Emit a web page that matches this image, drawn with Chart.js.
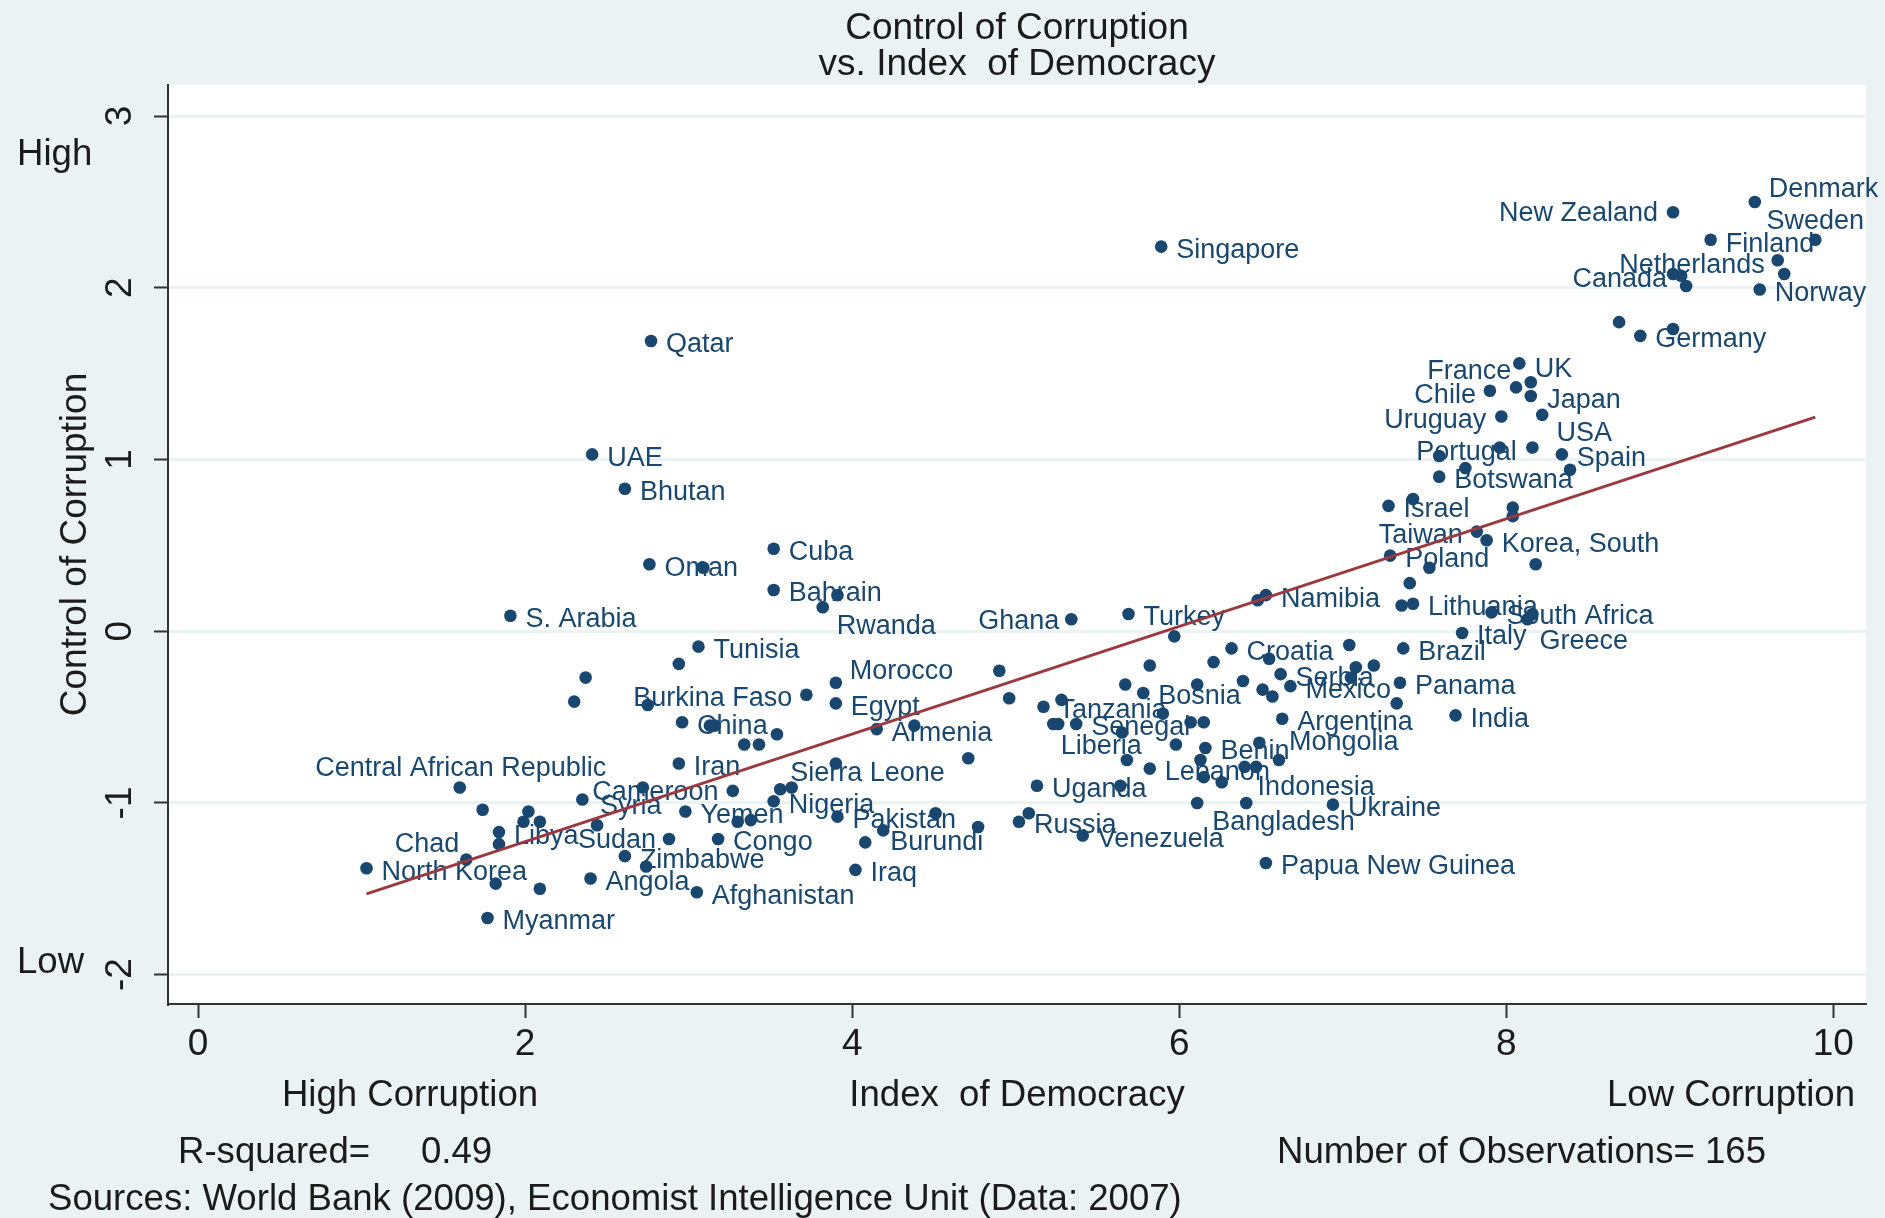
<!DOCTYPE html>
<html>
<head>
<meta charset="utf-8">
<title>Control of Corruption vs. Index of Democracy</title>
<script src="https://cdn.jsdelivr.net/npm/chart.js@4.4.1/dist/chart.umd.min.js"></script>
<style>
    html, body { margin: 0; padding: 0; background: #eaf2f3; }
    #wrap { width: 1885px; height: 1218px; }
</style>
</head>
<body>
<div id="wrap"><canvas id="corruptionChart" width="1885" height="1218"></canvas></div>
<script>
// Labelled countries (x = Index of Democracy, y = Control of Corruption)
const countries = ['Denmark', 'Sweden', 'Finland', 'New Zealand', 'Netherlands', 'Canada', 'Norway', 'Germany',
    'Singapore', 'Qatar', 'UAE', 'Bhutan', 'Oman', 'Cuba', 'Bahrain', 'Rwanda', 'S. Arabia', 'Tunisia',
    'Morocco', 'Burkina Faso', 'Egypt', 'China', 'Armenia', 'Iran', 'Sierra Leone', 'Central African Republic',
    'Cameroon', 'Syria', 'Libya', 'Chad', 'North Korea', 'Myanmar', 'Angola', 'Sudan', 'Zimbabwe', 'Yemen',
    'Congo', 'Afghanistan', 'Nigeria', 'Pakistan', 'Burundi', 'Iraq', 'Ghana', 'Turkey', 'Namibia', 'Croatia',
    'Bosnia', 'Tanzania', 'Senegal', 'Liberia', 'Lebanon', 'Benin', 'Uganda', 'Russia', 'Venezuela',
    'Bangladesh', 'Indonesia', 'Mongolia', 'Argentina', 'Mexico', 'Serbia', 'Panama', 'India', 'Ukraine',
    'Papua New Guinea', 'Brazil', 'Italy', 'Greece', 'South Africa', 'Lithuania', 'Poland', 'Korea, South',
    'Taiwan', 'Israel', 'Botswana', 'Spain', 'Portugal', 'USA', 'Uruguay', 'Japan', 'Chile', 'France', 'UK'];
const democracy = [9.52, 9.89, 9.25, 9.02, 9.07, 9.02, 9.55, 8.82,
    5.89, 2.77, 2.41, 2.61, 2.76, 3.52, 3.52, 3.82, 1.91, 3.06,
    3.90, 3.72, 3.90, 2.96, 4.15, 2.94, 3.56, 1.60,
    2.35, 2.44, 1.84, 1.64, 1.03, 1.77, 2.40, 2.88, 2.61, 2.98,
    3.18, 3.05, 3.52, 3.91, 4.19, 4.02, 5.34, 5.69, 6.53, 6.32,
    5.78, 5.17, 5.37, 5.68, 5.82, 6.16, 5.13, 5.02, 5.41,
    6.11, 6.40, 6.61, 6.63, 6.68, 6.62, 7.35, 7.69, 6.94,
    6.53, 7.37, 7.73, 8.13, 7.91, 7.43, 7.29, 7.88,
    7.82, 7.28, 7.59, 8.34, 7.59, 8.16, 7.97, 8.22, 7.90, 8.08, 8.15];
const corruption = [2.50, 2.28, 2.28, 2.44, 2.07, 2.08, 1.99, 1.72,
    2.24, 1.69, 1.03, 0.83, 0.39, 0.48, 0.24, 0.14, 0.09, -0.09,
    -0.30, -0.37, -0.42, -0.53, -0.57, -0.77, -0.92, -0.91,
    -0.98, -1.13, -1.17, -1.33, -1.38, -1.67, -1.44, -1.21, -1.31, -1.05,
    -1.21, -1.52, -0.99, -1.08, -1.16, -1.39, 0.07, 0.10, 0.21, -0.10,
    -0.36, -0.44, -0.54, -0.75, -0.80, -0.68, -0.90, -1.11, -1.19,
    -1.00, -0.79, -0.75, -0.51, -0.32, -0.25, -0.30, -0.49, -1.01,
    -1.35, -0.10, -0.01, 0.07, 0.11, 0.16, 0.44, 0.53,
    0.58, 0.73, 0.90, 1.03, 1.02, 1.07, 1.25, 1.26, 1.40, 1.56, 1.45];

// Countries plotted without a label
const otherDemocracy = [2.37, 2.30, 1.74, 2.02, 1.99, 2.09, 1.84, 1.82, 2.09, 2.74, 2.72,
    2.94, 2.75, 3.13, 3.16, 3.54, 3.34, 3.43, 4.38, 3.90, 3.27, 3.63, 3.30, 3.38, 4.51, 4.08,
    3.09, 3.91, 5.97, 4.90, 5.82, 6.21, 6.55, 4.96, 5.28, 5.67, 6.11, 6.39, 6.51, 6.57, 6.48,
    5.23, 5.26, 5.65, 5.90, 6.07, 6.15, 5.98, 4.71, 6.13, 6.15, 6.26, 6.47, 6.49, 5.64, 6.41,
    5.08, 4.77, 7.41, 7.36, 8.16, 7.04, 7.08, 7.19, 7.05, 7.33, 7.75, 8.39, 7.43, 8.04, 8.04,
    7.53, 8.18, 7.96, 8.06, 8.15, 9.10, 9.66, 9.70, 8.69, 9.02];
const otherCorruption = [-0.27, -0.41, -1.04, -1.05, -1.11, -1.11, -1.24, -1.47, -1.50, -1.37, -0.91,
    -0.19, -0.43, -0.55, -0.55, -0.60, -0.66, -0.66, -0.55, -0.77, -0.93, -0.91, -1.11, -1.10, -1.06, -1.23,
    0.37, 0.21, -0.03, -0.23, -0.20, -0.18, -0.16, -0.39, -0.40, -0.31, -0.31, -0.29, -0.34, -0.38, 0.18,
    -0.54, -0.54, -0.59, -0.48, -0.53, -0.53, -0.66, -0.74, -0.75, -0.85, -0.88, -0.79, -0.65, -0.90, -1.00,
    -1.06, -1.14, 0.28, 0.15, 0.10, -0.08, -0.21, -0.20, -0.27, -0.42, 0.95, 0.94, 0.77, 0.72, 0.67,
    0.37, 0.39, 1.07, 1.42, 1.37, 2.01, 2.16, 2.08, 1.80, 1.76];

// Fitted line and notes
const fitIntercept = -1.852;
const fitSlope = 0.3133;
const rSquared = '0.49';
const nObs = 165;
const xTickValues = [0, 2, 4, 6, 8, 10];
const yTickValues = [-2, -1, 0, 1, 2, 3];
const sourceNote = 'Sources: World Bank (2009), Economist Intelligence Unit (Data: 2007)';

// Marker label placement: [dx, dy, align] relative to the marker
const labelPlace = {
    'Denmark': [14, -12], 'Sweden': [0, -18, 'center'], 'Finland': [15, 5], 'New Zealand': [-15, 1, 'right'],
    'Netherlands': [-62, -10], 'Canada': [-6, 5, 'right'], 'Rwanda': [14, 19], 'Morocco': [14, -11],
    'Burkina Faso': [-14, 4, 'right'], 'Sierra Leone': [10, -16], 'Central African Republic': [1, -19, 'center'],
    'Cameroon': [10, -7], 'Syria': [3, -19], 'Chad': [-7, -15, 'right'], 'Sudan': [-13, 2, 'right'],
    'Burundi': [7, 12], 'Ghana': [-12, 2, 'right'], 'Liberia': [15, -13, 'right'], 'Bangladesh': [15, 20],
    'Indonesia': [13, 21], 'Mongolia': [10, -17], 'Greece': [12, 22], 'Taiwan': [-14, 4, 'right'],
    'Portugal': [-23, -4], 'USA': [24, -14], 'Uruguay': [-15, 4, 'right'], 'Japan': [5, -14],
    'Chile': [-14, 5, 'right'], 'France': [-8, 8, 'right'], 'UK': [4, -13]
};

const FONT = '"Liberation Sans", Arial, Helvetica, sans-serif';
const NAVY = '#1a476f';
const INK = '#1b1b1b';
Chart.defaults.font.family = FONT;

const labelled = democracy.map((x, i) => ({ x: x, y: corruption[i] }));
const others = otherDemocracy.map((x, i) => ({ x: x, y: otherCorruption[i] }));
const allX = democracy.concat(otherDemocracy);
const fitLine = [Math.min(...allX), Math.max(...allX)].map(x => ({ x: x, y: fitIntercept + fitSlope * x }));

// Stata style background: bluish graph region, white plot region
const backgroundPlugin = {
    id: 'stataBackground',
    beforeDraw(chart) {
        const { ctx, chartArea: a } = chart;
        ctx.save();
        ctx.fillStyle = '#eaf2f3';
        ctx.fillRect(0, 0, chart.width, chart.height);
        ctx.fillStyle = '#ffffff';
        ctx.fillRect(a.left, a.top, a.right - a.left, a.bottom - a.top);
        ctx.restore();
    }
};

// Country names next to the markers (drawn before the fit line)
const markerLabels = {
    id: 'markerLabels',
    afterDatasetDraw(chart, args) {
        if (args.index !== 1) return;
        const ctx = chart.ctx;
        ctx.save();
        ctx.font = '27px ' + FONT;
        ctx.fillStyle = NAVY;
        ctx.textBaseline = 'middle';
        args.meta.data.forEach((pt, i) => {
            const name = countries[i];
            const p = labelPlace[name] || [15, 4];
            ctx.textAlign = p[2] || 'left';
            ctx.fillText(name, pt.x + p[0], pt.y + p[1]);
        });
        ctx.restore();
    }
};

// Titles, rotated y ticks, axis captions and notes
const notesPlugin = {
    id: 'notes',
    afterDraw(chart) {
        const { ctx, chartArea: a, scales } = chart;
        const midX = (a.left + a.right) / 2;
        ctx.save();
        ctx.fillStyle = INK;
        ctx.font = '37px ' + FONT;
        ctx.textBaseline = 'middle';
        ctx.textAlign = 'center';
        ctx.fillText('Control of Corruption', midX, 29);
        ctx.fillText('vs. Index  of Democracy', midX, 65);

        yTickValues.forEach(v => {
            ctx.save();
            ctx.translate(121, scales.y.getPixelForValue(v));
            ctx.rotate(-Math.PI / 2);
            ctx.fillText(String(v), 0, 0);
            ctx.restore();
        });
        ctx.save();
        ctx.translate(76, (a.top + a.bottom) / 2);
        ctx.rotate(-Math.PI / 2);
        ctx.fillText('Control of Corruption', 0, 0);
        ctx.restore();

        ctx.font = '36.6px ' + FONT;
        ctx.textAlign = 'left';
        ctx.fillText('High', 17, 155);
        ctx.fillText('Low', 17, 963);

        ctx.textAlign = 'center';
        ctx.fillText('High Corruption', 410, 1096);
        ctx.fillText('Index  of Democracy', midX, 1096);
        ctx.textAlign = 'right';
        ctx.fillText('Low Corruption', 1855, 1096);

        ctx.textAlign = 'left';
        ctx.fillText('R-squared=     ' + rSquared, 178, 1153);
        ctx.fillText('Number of Observations= ' + nObs, 1277, 1153);
        ctx.fillText(sourceNote, 48, 1200);
        ctx.restore();
    }
};

const ctx = document.getElementById('corruptionChart').getContext('2d');
new Chart(ctx, {
    type: 'scatter',
    data: {
        datasets: [{
            label: 'Fitted values',
            data: fitLine,
            showLine: true,
            borderColor: '#9a3a40',
            borderWidth: 3,
            pointRadius: 0,
            order: 0
        }, {
            label: 'Countries',
            data: labelled,
            backgroundColor: NAVY,
            borderWidth: 0,
            pointRadius: 6.3,
            order: 1
        }, {
            label: 'Other countries',
            data: others,
            backgroundColor: NAVY,
            borderWidth: 0,
            pointRadius: 6.3,
            order: 2
        }]
    },
    options: {
        responsive: false,
        animation: false,
        events: [],
        layout: { padding: { left: 108, right: 19, top: 85, bottom: 154 } },
        scales: {
            x: {
                type: 'linear',
                min: -0.184,
                max: 10.2,
                afterBuildTicks: s => { s.ticks = xTickValues.map(v => ({ value: v })); },
                afterFit: s => { s.height = 60; },
                grid: { drawOnChartArea: false, drawTicks: true, tickLength: 14, tickWidth: 2, tickColor: '#333' },
                border: { display: true, color: '#333', width: 2 },
                ticks: { font: { size: 37 }, color: INK, padding: 5, maxRotation: 0 }
            },
            y: {
                type: 'linear',
                min: -2.171,
                max: 3.181,
                afterBuildTicks: s => { s.ticks = yTickValues.map(v => ({ value: v })); },
                afterFit: s => { s.width = 60; },
                grid: { color: '#eaf2f3', lineWidth: 3, drawTicks: true, tickLength: 14, tickWidth: 2, tickColor: '#333' },
                border: { display: true, color: '#333', width: 2 },
                ticks: { display: false }
            }
        },
        plugins: {
            legend: { display: false },
            tooltip: { enabled: false }
        }
    },
    plugins: [backgroundPlugin, markerLabels, notesPlugin]
});
</script>
</body>
</html>
